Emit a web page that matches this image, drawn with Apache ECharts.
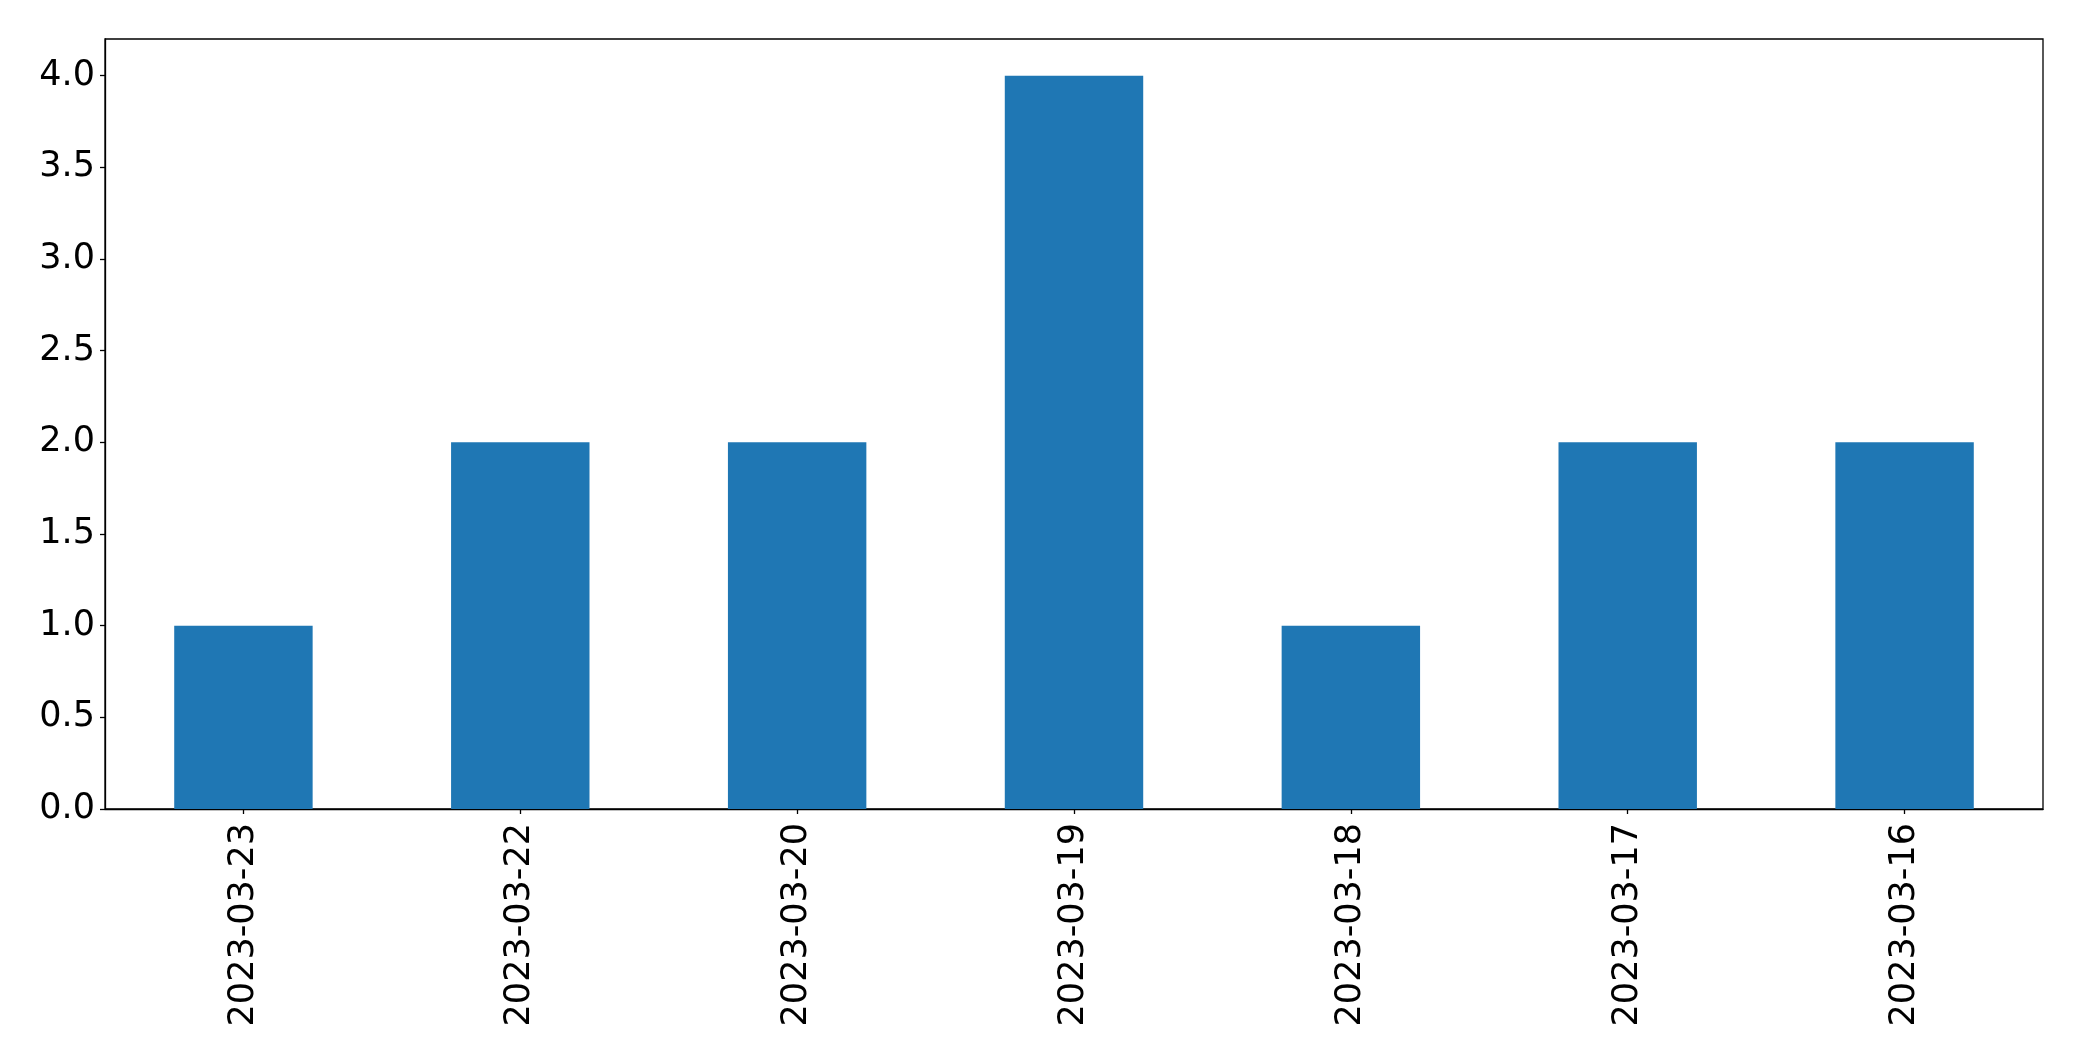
<!DOCTYPE html>
<html>
<head>
<meta charset="utf-8">
<script src="https://cdn.jsdelivr.net/npm/echarts@6/dist/echarts.min.js"></script>
<style>
  html, body { margin: 0; padding: 0; background: #fff; }
  #chart { width: 2082px; height: 1061px; }
</style>
</head>
<body>
<div id="chart"></div>
<script>
// data
const dates = ['2023-03-23', '2023-03-22', '2023-03-20', '2023-03-19', '2023-03-18', '2023-03-17', '2023-03-16']
const counts = [1, 2, 2, 4, 1, 2, 2]
const yTicks = [0, 0.5, 1, 1.5, 2, 2.5, 3, 3.5, 4]

const chart = echarts.init(document.getElementById('chart'))
const font = 'DejaVu Sans'

chart.setOption({
  animation: false,
  grid: {
    left: 105,
    right: 39,
    top: 39,
    bottom: 252,
    show: true,
    borderColor: '#000',
    borderWidth: 1.3,
    backgroundColor: 'transparent'
  },
  xAxis: {
    type: 'category',
    data: dates,
    axisLine: { show: true, lineStyle: { color: '#000', width: 1.3 } },
    axisTick: { show: true, alignWithLabel: true, length: 5, lineStyle: { color: '#000', width: 1.3 } },
    axisLabel: {
      rotate: 90,
      margin: 14,
      color: '#000',
      fontFamily: font,
      fontSize: 35
    },
    splitLine: { show: false }
  },
  yAxis: {
    type: 'value',
    min: 0,
    max: 4.2,
    interval: 0.5,
    axisLine: { show: true, lineStyle: { color: '#000', width: 1.3 } },
    axisTick: { show: true, length: 5, customValues: yTicks, lineStyle: { color: '#000', width: 1.3 } },
    axisLabel: {
      customValues: yTicks,
      margin: 10,
      padding: [4, 0, 0, 0],
      color: '#000',
      fontFamily: font,
      fontSize: 35,
      formatter: function (v) { return v.toFixed(1) }
    },
    splitLine: { show: false }
  },
  series: [
    {
      type: 'bar',
      data: counts,
      barWidth: '50%',
      itemStyle: { color: '#1f77b4' }
    }
  ]
})
</script>
</body>
</html>
